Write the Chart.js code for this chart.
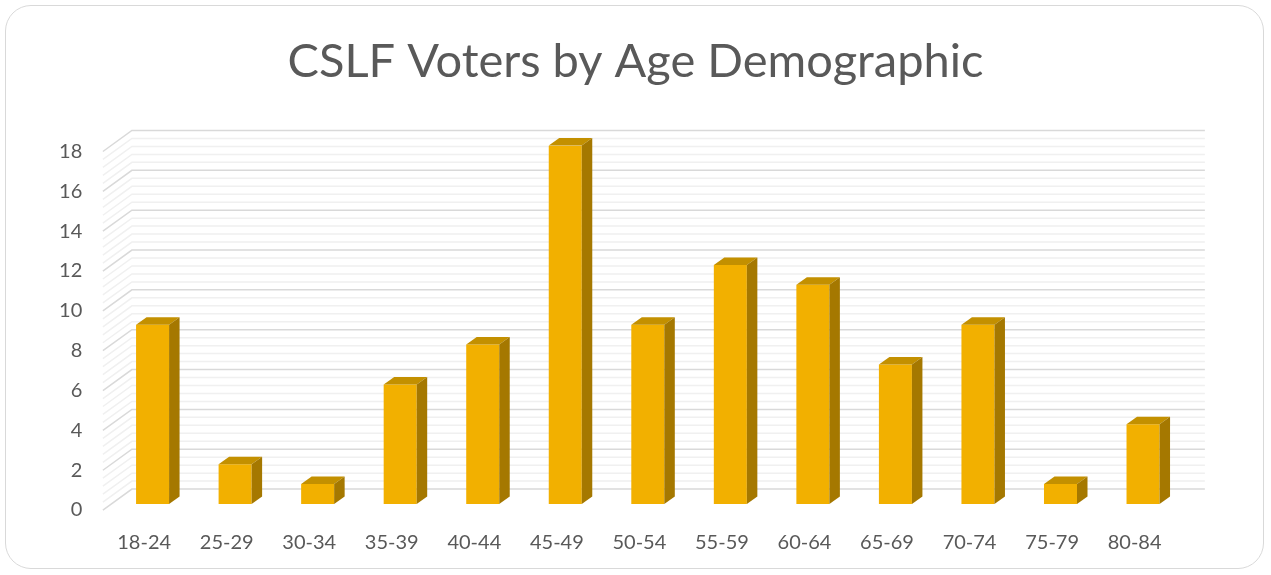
<!DOCTYPE html>
<html>
<head>
<meta charset="utf-8">
<script src="https://cdn.jsdelivr.net/npm/chart.js@4"></script>
<style>
  html, body { margin: 0; padding: 0; background: #fff; }
  #wrap { position: relative; width: 1271px; height: 575px; }
  #frame {
    position: absolute; left: 5px; top: 5px; width: 1257px; height: 562px;
    border: 1.5px solid #d9d9d9; border-radius: 26px; pointer-events: none;
  }
</style>
</head>
<body>
<div id="wrap">
  <canvas id="ageChart" width="1271" height="575"></canvas>
  <div id="frame"></div>
</div>
<script>
// Age groups and voter counts
const ageGroups = ['18-24', '25-29', '30-34', '35-39', '40-44', '45-49', '50-54',
                   '55-59', '60-64', '65-69', '70-74', '75-79', '80-84'];
const voters = [9, 2, 1, 6, 8, 18, 9, 12, 11, 7, 9, 1, 4];
const yTicks = [0, 2, 4, 6, 8, 10, 12, 14, 16, 18];

// fake 3d: depth of the box and where the bars sit inside it
const DEPTH_X = 29, DEPTH_Y = 21, BAR_AT = 0.29;
const BAR_DX = 10.5, BAR_DY = 7.5;

const box3d = {
    id: 'box3d',
    beforeDatasetsDraw(chart) {
        const c = chart.ctx, a = chart.chartArea, y = chart.scales.y;
        const fx = DEPTH_X * BAR_AT, fy = DEPTH_Y * BAR_AT;
        const bx = DEPTH_X * (1 - BAR_AT), by = DEPTH_Y * (1 - BAR_AT);
        c.save();
        c.lineWidth = 1.5;
        // minor lines every 0.4, major every 2
        for (let i = 0; i <= 45; i++) {
            const py = y.getPixelForValue(i * 0.4);
            c.strokeStyle = i % 5 === 0 ? '#d9d9d9' : '#f0f0f0';
            c.beginPath();
            c.moveTo(a.left - fx, py + fy);
            c.lineTo(a.left + bx, py - by);
            c.lineTo(a.right + bx, py - by);
            c.stroke();
        }
        c.restore();
    },
    afterDatasetsDraw(chart) {
        const c = chart.ctx;
        c.save();
        chart.getDatasetMeta(0).data.forEach(bar => {
            const l = bar.x - bar.width / 2, r = bar.x + bar.width / 2;
            const t = bar.y, b = bar.base;
            // top face
            c.fillStyle = '#c39000';
            c.beginPath();
            c.moveTo(l, t);
            c.lineTo(l + BAR_DX, t - BAR_DY);
            c.lineTo(r + BAR_DX, t - BAR_DY);
            c.lineTo(r, t);
            c.closePath();
            c.fill();
            // side face
            c.fillStyle = '#a57800';
            c.beginPath();
            c.moveTo(r, t);
            c.lineTo(r + BAR_DX, t - BAR_DY);
            c.lineTo(r + BAR_DX, b - BAR_DY);
            c.lineTo(r, b);
            c.closePath();
            c.fill();
        });
        c.restore();
    }
};

const ctx = document.getElementById('ageChart').getContext('2d');
const ageChart = new Chart(ctx, {
    type: 'bar',
    data: {
        labels: ageGroups,
        datasets: [{
            label: 'Voters',
            data: voters,
            backgroundColor: '#f2b000',
            borderWidth: 0,
            categoryPercentage: 0.4,
            barPercentage: 1
        }]
    },
    options: {
        responsive: false,
        animation: false,
        layout: { padding: 0 },
        scales: {
            x: {
                grid: { display: false, drawTicks: false },
                border: { display: false },
                ticks: {
                    color: '#595959',
                    font: { family: 'Lato', size: 20 },
                    padding: 27,
                    labelOffset: -8.4,
                    maxRotation: 0
                },
                afterFit(scale) { scale.height = 71; }
            },
            y: {
                min: 0,
                max: 18,
                afterBuildTicks(scale) { scale.ticks = yTicks.map(v => ({ value: v })); },
                grid: { display: false, drawTicks: false },
                border: { display: false },
                ticks: {
                    color: '#595959',
                    font: { family: 'Lato', size: 20 },
                    padding: 29,
                    labelOffset: 6
                },
                afterFit(scale) { scale.width = 111.3; }
            },
            // empty axis on the right, only to reserve room for the 3d depth
            yRight: {
                position: 'right',
                grid: { display: false, drawTicks: false },
                border: { display: false },
                ticks: { display: false },
                afterFit(scale) { scale.width = 86.7; }
            }
        },
        plugins: {
            legend: { display: false },
            tooltip: { enabled: false },
            title: {
                display: true,
                text: 'CSLF Voters by Age Demographic',
                color: '#595959',
                font: { family: 'Lato', size: 47, weight: 'normal' },
                padding: { top: 34, bottom: 55 }
            }
        }
    },
    plugins: [box3d]
});
</script>
</body>
</html>
